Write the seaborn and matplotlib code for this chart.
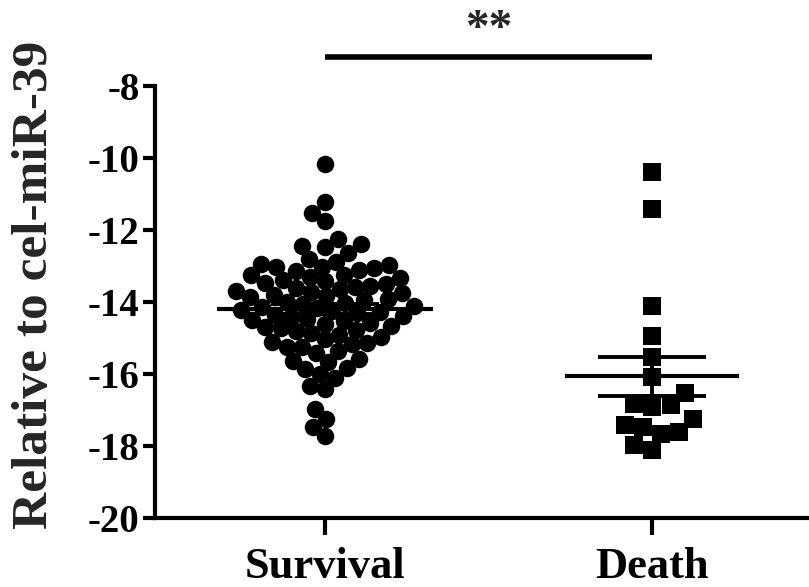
import numpy as np
import pandas as pd
import matplotlib
matplotlib.use("Agg")
import matplotlib.pyplot as plt
from matplotlib.collections import PathCollection
import seaborn as sns

categories = ["Survival", "Death"]
survival = [
    -10.17, -11.23, -11.52, -11.75, -12.26, -12.39, -12.44, -12.48,
    -12.63, -12.81, -12.88, -12.94, -12.97, -13.03, -13.03, -13.06, -13.11, -13.14, -13.26, -13.26, -13.31,
    -13.34, -13.39, -13.43, -13.47, -13.50, -13.55, -13.57, -13.62, -13.65, -13.69, -13.72, -13.76, -13.80,
    -13.84, -13.87, -13.92, -13.95, -13.99, -14.03, -14.06, -14.10, -14.13, -14.18, -14.21, -14.25, -14.28,
    -14.31, -14.35, -14.39, -14.42, -14.47, -14.50, -14.53, -14.58, -14.61, -14.66, -14.69, -14.73, -14.78,
    -14.81, -14.86, -14.92,
    -14.96, -15.04, -15.12, -15.15, -15.17, -15.24, -15.24, -15.35, -15.41, -15.58, -15.63, -15.67,
    -15.84, -15.87, -16.01, -16.10, -16.33, -16.42, -16.98, -17.26, -17.46, -17.71,
]
death = [
    -10.38, -11.43, -14.10, -14.94, -15.52, -16.07, -16.54, -16.83, -16.86,
    -16.93, -17.26, -17.42, -17.48, -17.60, -17.67, -17.97, -18.11,
]
y_ticks = [-20, -18, -16, -14, -12, -10, -8]
y_label = "Relative to cel-miR-39"
sig_text = "**"

sns.set_theme(style="ticks")
plt.rcParams["font.family"] = ["Liberation Serif", "DejaVu Serif"]
plt.rcParams["font.weight"] = "bold"

df = pd.DataFrame({
    "group": ["Survival"] * len(survival) + ["Death"] * len(death),
    "value": survival + death,
})

fig = plt.figure(figsize=(8.09, 5.87), dpi=100)
ax = fig.add_axes([155 / 809, 1 - 518 / 587, 1 - 155 / 809, (518 - 86) / 587])
ax.set_xlim(-0.52, 1.48)
ax.set_ylim(-20, -8)

# swarm layout is computed with a compact size, then markers are enlarged
# so that neighbouring points overlap a little, as in the original figure
sns.swarmplot(data=df[df.group == "Survival"], x="group", y="value", order=categories,
              marker="o", color="black", size=10.6, linewidth=0, ax=ax, zorder=3)
sns.swarmplot(data=df[df.group == "Death"], x="group", y="value", order=categories,
              marker="s", color="black", size=12.8, linewidth=0, ax=ax, zorder=3)
fig.canvas.draw()
colls = [c for c in ax.collections if isinstance(c, PathCollection)]
final_sizes = [12.6, 12.8]
for c, sz in zip(colls, final_sizes):
    if "draw" in c.__dict__:
        del c.draw
    c.set_sizes([sz ** 2])

ax.set_xlim(-0.52, 1.48)
ax.set_ylim(-20, -8)

half_w = [0.33, 0.265]
for i, vals in enumerate([survival, death]):
    v = np.asarray(vals)
    m = v.mean()
    se = v.std(ddof=1) / np.sqrt(len(v))
    ax.hlines(m, i - half_w[i], i + half_w[i], color="black", lw=3, zorder=5)
    ax.hlines([m - se, m + se], i - 0.165, i + 0.165, color="black", lw=2.8, zorder=5)
    ax.vlines(i, m - se, m + se, color="black", lw=2.8, zorder=5)

ax.plot([0, 1], [-7.2, -7.2], color="black", lw=4, clip_on=False, solid_capstyle="butt")
ax.text(0.5, -6.45, sig_text, ha="center", va="center", fontsize=34, fontweight="bold")

ax.set_yticks(y_ticks)
ax.set_yticklabels([str(t) for t in y_ticks])
ax.set_xlabel("")
ax.set_ylabel(y_label, fontsize=37, fontweight="bold")
ax.yaxis.set_label_coords(-0.148, 0.54)

for s in ["top", "right"]:
    ax.spines[s].set_visible(False)
for s in ["left", "bottom"]:
    ax.spines[s].set_linewidth(3)
    ax.spines[s].set_color("black")
ax.tick_params(axis="y", width=3, length=9, labelsize=28, pad=2, colors="black")
ax.tick_params(axis="x", width=3, length=12, labelsize=32, pad=9, colors="black")
for lab in ax.get_xticklabels() + ax.get_yticklabels():
    lab.set_fontweight("bold")

fig.savefig("out.png", dpi=100)
